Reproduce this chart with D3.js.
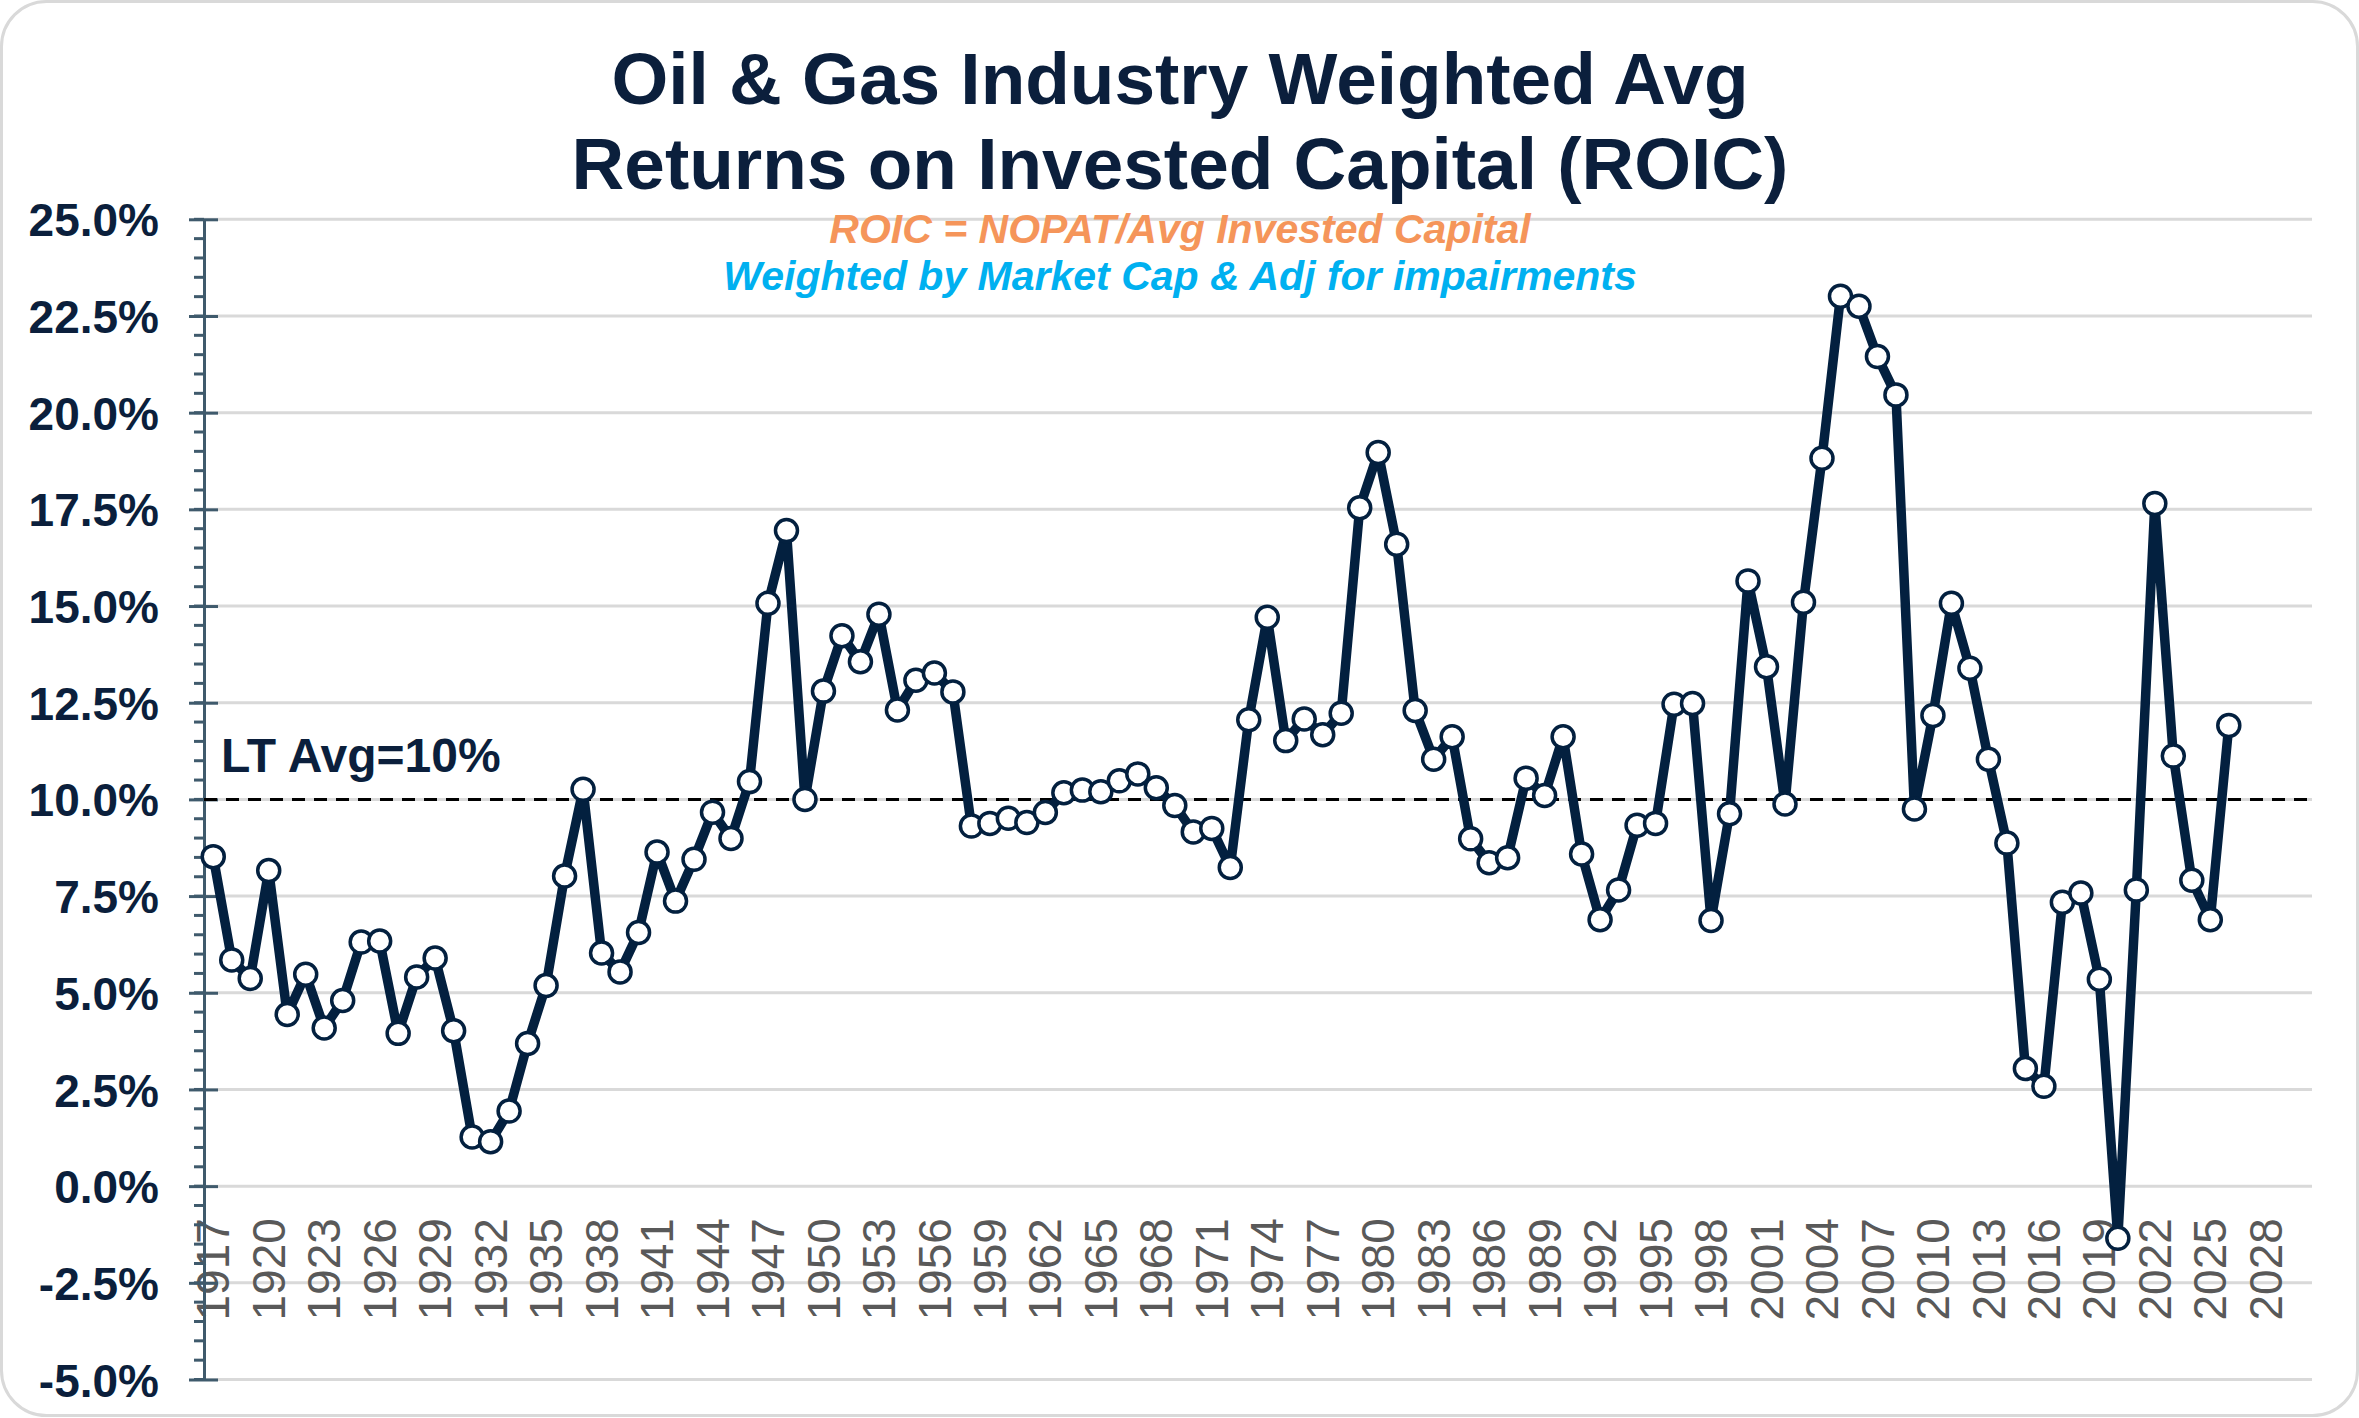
<!DOCTYPE html>
<html>
<head>
<meta charset="utf-8">
<script src="https://cdn.jsdelivr.net/npm/d3@7"></script>
<style>
body { margin: 0; background: #fff; }
svg { display: block; font-family: "Liberation Sans", Arial, sans-serif; }
</style>
</head>
<body>
<div id="chart"></div>
<script>
// ROIC by year, oil & gas industry

var years = d3.range(1917, 2031);   // category axis, 1917..2030

var tickYears = [1917, 1920, 1923, 1926, 1929, 1932, 1935, 1938, 1941, 1944,
    1947, 1950, 1953, 1956, 1959, 1962, 1965, 1968, 1971, 1974, 1977, 1980,
    1983, 1986, 1989, 1992, 1995, 1998, 2001, 2004, 2007, 2010, 2013, 2016,
    2019, 2022, 2025, 2028];

// 1917 .. 2026
var roic = [
    8.52, 5.85, 5.37, 8.16, 4.44, 5.48, 4.09, 4.80, 6.31, 6.34,
    3.95, 5.41, 5.90, 4.02, 1.27, 1.15, 1.94, 3.69, 5.19, 8.02,
    10.26, 6.03, 5.54, 6.56, 8.64, 7.37, 8.45, 9.67, 8.99, 10.46,
    15.07, 16.95, 10.00, 12.80, 14.23, 13.56, 14.79, 12.31, 13.08, 13.27,
    12.78, 9.31, 9.38, 9.51, 9.40, 9.66, 10.17, 10.24, 10.20, 10.48,
    10.66, 10.30, 9.84, 9.16, 9.25, 8.24, 12.06, 14.71, 11.52, 12.08,
    11.67, 12.23, 17.54, 18.97, 16.60, 12.30, 11.04, 11.62, 8.98, 8.36,
    8.49, 10.55, 10.10, 11.62, 8.59, 6.89, 7.66, 9.33, 9.38, 12.46,
    12.48, 6.87, 9.63, 15.65, 13.43, 9.88, 15.10, 18.82, 23.01, 22.75,
    21.45, 20.46, 9.75, 12.17, 15.07, 13.39, 11.04, 8.87, 3.04, 2.58,
    7.34, 7.58, 5.35, -1.35, 7.66, 17.65, 11.12, 7.91, 6.89, 11.91
];

var yMajor = [-5, -2.5, 0, 2.5, 5, 7.5, 10, 12.5, 15, 17.5, 20, 22.5, 25];
var yMinor = d3.range(-5, 25.01, 0.5);
var ltAvg = 10;

var titleLines = ["Oil & Gas Industry Weighted Avg", "Returns on Invested Capital (ROIC)"];
var subtitle1 = "ROIC = NOPAT/Avg Invested Capital";
var subtitle2 = "Weighted by Market Cap & Adj for impairments";
var avgLabel = "LT Avg=10%";

var width = 2359,
    height = 1418;

var navy = "#03203f",
    axisColor = "#3f5a6c",
    gridColor = "#d9d9d9";

var data = roic.map(function(v, i) {
    return {year: years[i], value: v};
});

var svg = d3.select("#chart")
    .append("svg")
    .attr("width", width)
    .attr("height", height);

svg.append("rect")
    .attr("x", 1.5)
    .attr("y", 1.5)
    .attr("width", width - 3)
    .attr("height", height - 4)
    .attr("rx", 45)
    .attr("fill", "#fff")
    .attr("stroke", gridColor)
    .attr("stroke-width", 3);

var xScale = d3.scaleBand()
    .domain(years)
    .range([204, 2312]);

var yScale = d3.scaleLinear()
    .domain([-5, 25])
    .range([1379.5, 219.3]);

// gridlines
svg.append("g")
    .selectAll("line")
    .data(yMajor)
    .join("line")
    .attr("x1", 204)
    .attr("x2", 2312)
    .attr("y1", function(d) { return yScale(d); })
    .attr("y2", function(d) { return yScale(d); })
    .attr("stroke", gridColor)
    .attr("stroke-width", 3);

// x axis labels (no line)
var xAxis = d3.axisBottom(xScale)
    .tickValues(tickYears)
    .tickSize(0);

var gx = svg.append("g")
    .attr("transform", "translate(0," + yScale(0) + ")")
    .call(xAxis);
gx.select(".domain").remove();
gx.selectAll("text")
    .attr("transform", "rotate(-90)")
    .attr("x", -32)
    .attr("y", 0)
    .attr("dy", "0.35em")
    .style("text-anchor", "end")
    .attr("fill", "#595959")
    .attr("font-size", 46)
    .attr("font-family", "Liberation Sans, Arial, sans-serif");

// minor ticks
svg.append("g")
    .attr("transform", "translate(204,0)")
    .selectAll("line")
    .data(yMinor)
    .join("line")
    .attr("x1", -10)
    .attr("x2", 0)
    .attr("y1", function(d) { return yScale(d); })
    .attr("y2", function(d) { return yScale(d); })
    .attr("stroke", axisColor)
    .attr("stroke-width", 3);

// y axis
var yAxis = d3.axisLeft(yScale)
    .tickValues(yMajor)
    .tickSizeOuter(0)
    .tickFormat(function(d) { return d.toFixed(1) + "%"; });

var gy = svg.append("g")
    .attr("transform", "translate(204,0)")
    .call(yAxis);
gy.select(".domain")
    .attr("stroke", axisColor)
    .attr("stroke-width", 3);
gy.selectAll(".tick line")
    .attr("x1", 14)
    .attr("x2", -15)
    .attr("stroke", axisColor)
    .attr("stroke-width", 3);
gy.selectAll("text")
    .attr("x", -45)
    .attr("dy", "0.36em")
    .attr("fill", "#0b1f3c")
    .attr("font-size", 46)
    .attr("font-weight", "bold")
    .attr("font-family", "Liberation Sans, Arial, sans-serif");

// long-term average
svg.append("line")
    .attr("x1", 204)
    .attr("x2", 2312)
    .attr("y1", yScale(ltAvg))
    .attr("y2", yScale(ltAvg))
    .attr("stroke", "#000")
    .attr("stroke-width", 3)
    .attr("stroke-dasharray", "13,9");

svg.append("text")
    .attr("x", 221)
    .attr("y", 772)
    .attr("fill", "#0b1f3c")
    .attr("font-size", 48)
    .attr("font-weight", "bold")
    .text(avgLabel);

// the series
var line = d3.line()
    .x(function(d) { return xScale(d.year) + xScale.bandwidth() / 2; })
    .y(function(d) { return yScale(d.value); });

svg.append("path")
    .attr("d", line(data))
    .attr("fill", "none")
    .attr("stroke", navy)
    .attr("stroke-width", 9.5)
    .attr("stroke-linejoin", "round");

svg.append("g")
    .selectAll("circle")
    .data(data)
    .join("circle")
    .attr("cx", function(d) { return xScale(d.year) + xScale.bandwidth() / 2; })
    .attr("cy", function(d) { return yScale(d.value); })
    .attr("r", 11)
    .attr("fill", "#fff")
    .attr("stroke", navy)
    .attr("stroke-width", 3.5);

// titles
svg.append("g")
    .selectAll("text")
    .data(titleLines)
    .join("text")
    .attr("x", 1180)
    .attr("y", function(d, i) { return 104 + i * 85; })
    .attr("text-anchor", "middle")
    .attr("fill", "#0b1f3c")
    .attr("font-size", 73)
    .attr("font-weight", "bold")
    .text(function(d) { return d; });

svg.append("text")
    .attr("x", 1180)
    .attr("y", 243)
    .attr("text-anchor", "middle")
    .attr("fill", "#f5955a")
    .attr("font-size", 41)
    .attr("font-weight", "bold")
    .attr("font-style", "italic")
    .text(subtitle1);

svg.append("text")
    .attr("x", 1180)
    .attr("y", 290)
    .attr("text-anchor", "middle")
    .attr("fill", "#00b0f0")
    .attr("font-size", 41)
    .attr("font-weight", "bold")
    .attr("font-style", "italic")
    .text(subtitle2);
</script>
</body>
</html>
